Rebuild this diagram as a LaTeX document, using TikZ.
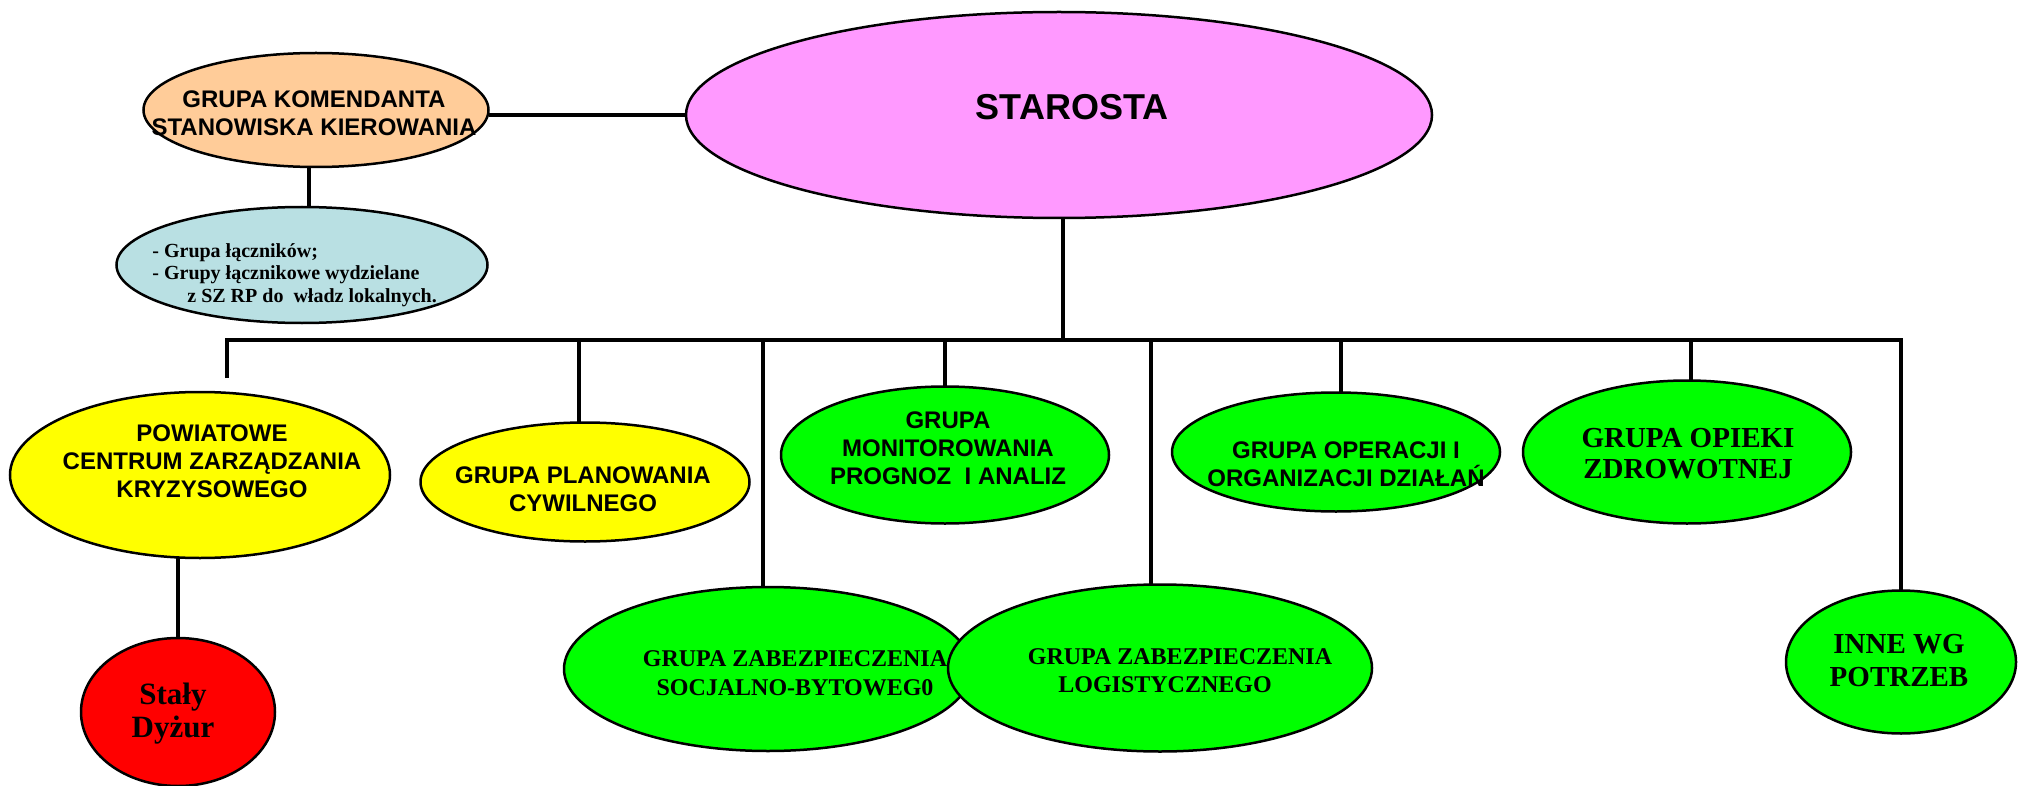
\documentclass[tikz,border=0pt]{standalone}
\usepackage{fontspec}
\setmainfont{Liberation Serif}
\newfontfamily\arialfont{Liberation Sans}
\usetikzlibrary{shapes.geometric}
\definecolor{pinkfill}{HTML}{FF99FF}
\definecolor{peach}{HTML}{FFCC99}
\definecolor{lightblue}{HTML}{B9E0E3}
\definecolor{yel}{HTML}{FFFF00}
\definecolor{grn}{HTML}{00FF00}
\definecolor{rd}{HTML}{FF0000}
\tikzset{
  ell/.style={ellipse, draw=black, line width=1.25pt, inner sep=0pt, outer sep=0pt},
  conn/.style={draw=black, line width=2pt},
  sanslabel/.style={inner sep=0pt, align=center, font=\arialfont\bfseries\fontsize{12pt}{14pt}\selectfont},
  seriflabel/.style={inner sep=0pt, align=center, font=\bfseries\fontsize{12pt}{14.5pt}\selectfont},
}
\begin{document}
\begin{tikzpicture}[x=0.5pt,y=-0.5pt]
\useasboundingbox (0,0) rectangle (2022,786);
\fill[white] (0,0) rectangle (2022,786);

% ellipses
\node[ell, fill=pinkfill, minimum width=373pt, minimum height=103pt] (star) at (1059,115) {};
\node[ell, fill=peach, minimum width=172.5pt, minimum height=57pt] (gk) at (316,110) {};
\node[ell, fill=lightblue, minimum width=185.5pt, minimum height=58pt] (blue) at (302,265) {};
\node[ell, fill=yel, minimum width=190pt, minimum height=83pt] (pczk) at (200,475) {};
\node[ell, fill=rd, minimum width=97pt, minimum height=74pt] (staly) at (178,712) {};
\node[ell, fill=yel, minimum width=164.5pt, minimum height=59.5pt] (plan) at (585,482) {};
\node[ell, fill=grn, minimum width=164pt, minimum height=68.5pt] (monit) at (945,455) {};
\node[ell, fill=grn, minimum width=204pt, minimum height=82pt] (socj) at (768,669) {};
\node[ell, fill=grn, minimum width=212pt, minimum height=83.5pt] (logi) at (1160,668) {};
\node[ell, fill=grn, minimum width=164pt, minimum height=59.5pt] (oper) at (1336,452) {};
\node[ell, fill=grn, minimum width=164pt, minimum height=71.5pt] (opieki) at (1687,452) {};
\node[ell, fill=grn, minimum width=115pt, minimum height=71.5pt] (inne) at (1901,662) {};

% connectors
\coordinate (busL) at (227,340);
\coordinate (pend) at (227,378);
\draw[conn] (star.west) -- (star.west -| gk.east);
\draw[conn] ([xshift=-3.5pt]gk.south) -- ([xshift=-3.5pt]gk.south |- blue.north);
\draw[conn] (staly.north) -- (staly.north |- pczk.south);
\draw[conn, line join=miter] (pend) -- (busL) -- (inne.north |- busL) -- (inne.north);
\draw[conn] ([xshift=2pt]star.south) -- ([xshift=2pt]star.south |- busL);
\draw[conn] ([xshift=-3pt]plan.north) -- ([xshift=-3pt]plan.north |- busL);
\draw[conn] ([xshift=-2.5pt]socj.north) -- ([xshift=-2.5pt]socj.north |- busL);
\draw[conn] (monit.north) -- (monit.north |- busL);
\draw[conn] ([xshift=-4.5pt]logi.north) -- ([xshift=-4.5pt]logi.north |- busL);
\draw[conn] ([xshift=2.5pt]oper.north) -- ([xshift=2.5pt]oper.north |- busL);
\draw[conn] ([xshift=2pt]opieki.north) -- ([xshift=2pt]opieki.north |- busL);

% texts
\node[anchor=base, inner sep=0pt, font=\arialfont\bfseries\fontsize{18pt}{20pt}\selectfont] (t-star) at (1072,120) {STAROSTA};
\node[sanslabel] (t-gk) at (314,113.5) {GRUPA KOMENDANTA\\STANOWISKA KIEROWANIA};
\node[anchor=west, align=left, inner sep=0pt, font=\bfseries\fontsize{10pt}{11.25pt}\selectfont] (t-blue) at (152,275) {- Grupa łączników;\\- Grupy łącznikowe wydzielane\\\hspace*{17.5pt}z SZ RP do~ władz lokalnych.};
\node[sanslabel] (t-pczk) at (212,461) {POWIATOWE\\CENTRUM ZARZĄDZANIA\\KRYZYSOWEGO};
\node[sanslabel] (t-plan) at (583,489) {GRUPA PLANOWANIA\\CYWILNEGO};
\node[sanslabel] (t-monit) at (948,448) {GRUPA\\MONITOROWANIA\\PROGNOZ~ I ANALIZ};
\node[sanslabel] (t-oper) at (1346,464.5) {GRUPA OPERACJI I\\ORGANIZACJI DZIAŁAŃ};
\node[seriflabel, font=\bfseries\fontsize{14.5pt}{15.5pt}\selectfont] (t-opieki) at (1688,453.5) {GRUPA OPIEKI\\ZDROWOTNEJ};
\node[seriflabel, font=\bfseries\fontsize{14.5pt}{16.5pt}\selectfont] (t-inne) at (1899,661) {INNE WG\\POTRZEB};
\node[seriflabel] (t-socj) at (795,673.5) {GRUPA ZABEZPIECZENIA\\SOCJALNO-BYTOWEG0};
\node[seriflabel, font=\bfseries\fontsize{12pt}{14pt}\selectfont] (t-logi) at (1180,671) {GRUPA ZABEZPIECZENIA\\LOGISTYCZNEGO\hspace*{15pt}};
\node[seriflabel, font=\bfseries\fontsize{15.5pt}{16.5pt}\selectfont] (t-staly) at (173,714) {Stały\\Dyżur};
\end{tikzpicture}
\end{document}
